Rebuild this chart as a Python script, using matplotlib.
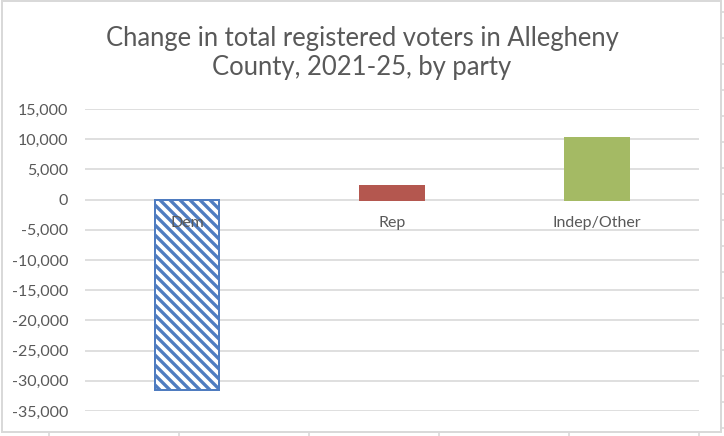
import matplotlib
matplotlib.use("Agg")
import matplotlib.pyplot as plt
from matplotlib.ticker import FuncFormatter, MultipleLocator
from matplotlib.patches import Rectangle
from matplotlib.lines import Line2D

categories = ["Dem", "Rep", "Indep/Other"]
values = [-31500, 2250, 10150]
title = "Change in total registered voters in Allegheny\nCounty, 2021-25, by party"

DPI = 120
W, H = 724, 436
plt.rcParams['font.family'] = ['Lato', 'DejaVu Sans']
plt.rcParams['hatch.linewidth'] = 2.0

fig = plt.figure(figsize=(W / DPI, H / DPI), dpi=DPI)
fig.patch.set_facecolor("white")

ax = fig.add_axes([85 / W, 25 / H, (699 - 85) / W, 302 / H])
ax.set_xlim(-0.5, len(categories) - 0.5)
ax.set_ylim(-35000, 15000)
ax.yaxis.set_major_locator(MultipleLocator(5000))
ax.yaxis.set_major_formatter(FuncFormatter(lambda v, p: f"{int(v):,}"))
ax.set_axisbelow(True)
ax.grid(axis="y", color="#d9d9d9", linewidth=1.0)
for s in ax.spines.values():
    s.set_visible(False)
ax.tick_params(axis="y", length=0, pad=10, labelsize=9.6, labelcolor="#595959")
ax.set_xticks([])

colors = ["white", "#b4574f", "#a4ba64"]
edges = ["#4f7cc0", "#b4574f", "#a4ba64"]
hatches = ["\\\\\\\\", None, None]
x = range(len(categories))
bars = ax.bar(x, values, width=0.313, color=colors, edgecolor=edges,
              linewidth=1.2, zorder=2)
for b, h in zip(bars, hatches):
    if h:
        b.set_hatch(h)

for i, c in enumerate(categories):
    ax.annotate(c, xy=(i, 0), xytext=(0, -14), textcoords="offset points",
                ha="center", va="center", fontsize=9.6, color="#595959", zorder=5)

fig.text(0.5, 1 - 53 / H, title, ha="center", va="center", fontsize=15.4,
         color="#595959", linespacing=1.2)

# chart border
fig.add_artist(Rectangle((2 / W, 1 - 432 / H), (721 - 2) / W, (432 - 1) / H,
                         transform=fig.transFigure, fill=False,
                         edgecolor="#d9d9d9", linewidth=1.2))
# spreadsheet grid fragments outside the chart
for k in range(17):
    yy = 1 - (12 + 26 * k) / H
    fig.add_artist(Line2D([721 / W, 1], [yy, yy], transform=fig.transFigure,
                          color="#d9d9d9", linewidth=1.0))
for k in range(6):
    xx = (49 + 130 * k) / W
    fig.add_artist(Line2D([xx, xx], [0, 1 - 433 / H], transform=fig.transFigure,
                          color="#d9d9d9", linewidth=1.0))

fig.savefig("out.png", dpi=DPI, facecolor="white")
